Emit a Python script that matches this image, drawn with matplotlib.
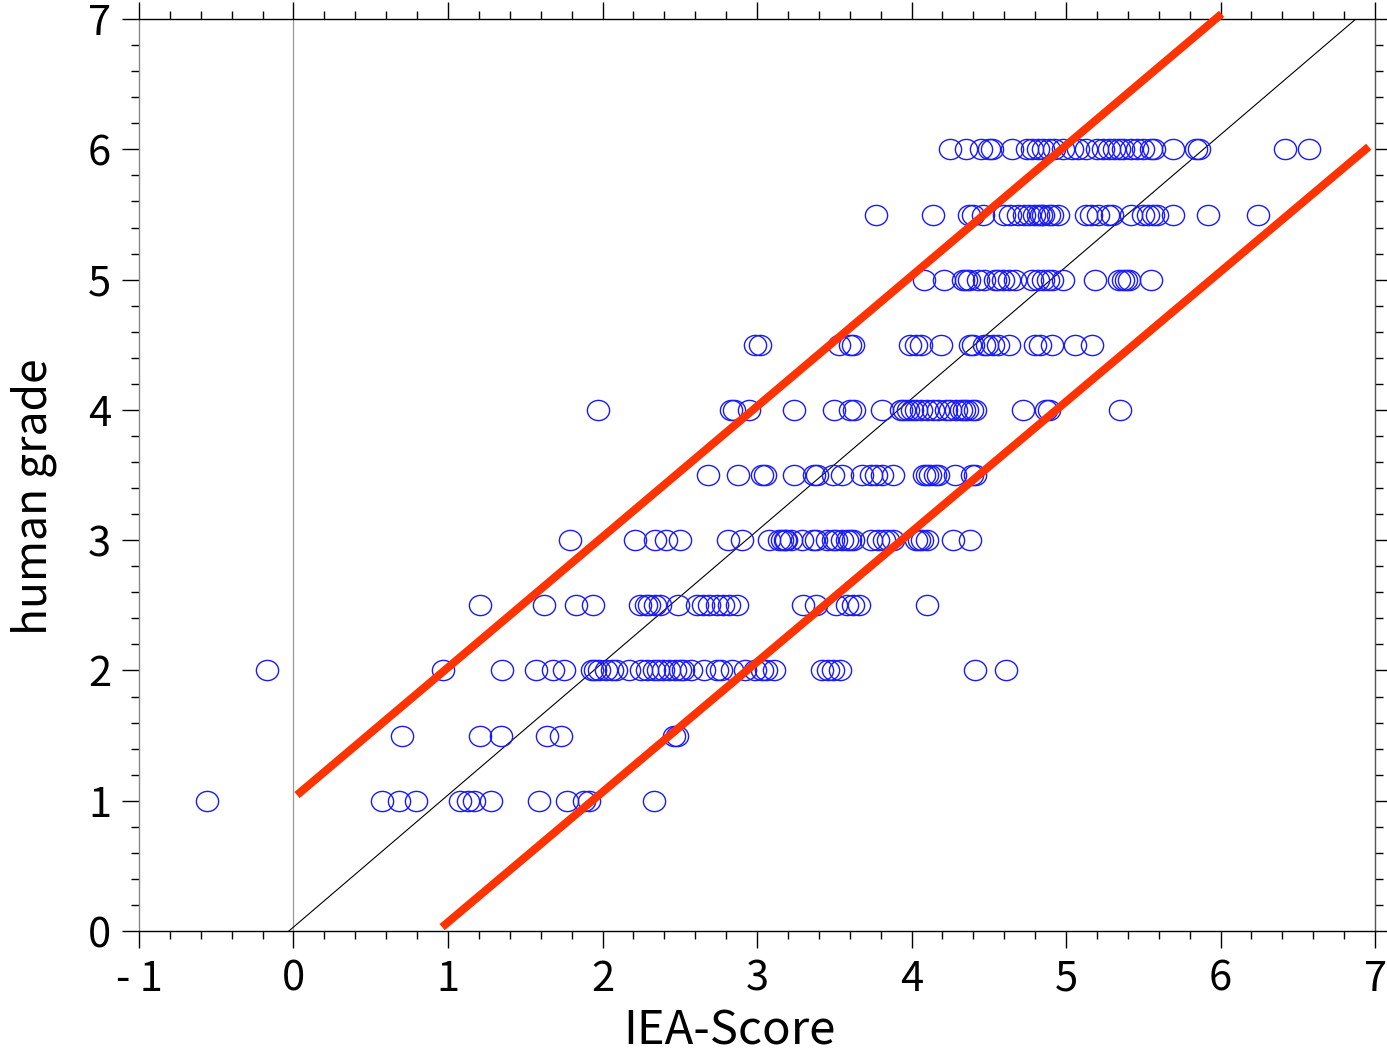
import numpy as np
import matplotlib
matplotlib.use('Agg')
import matplotlib.pyplot as plt
from matplotlib.ticker import MultipleLocator
from matplotlib.path import Path

plt.rcParams['font.family'] = ['Noto Sans CJK JP', 'DejaVu Sans']

# IEA-Score values for each human grade row
x_g1 = [-0.56, 0.57, 0.68, 0.79, 1.08, 1.13, 1.17, 1.28, 1.59, 1.77, 1.88, 1.91, 2.33]
x_g15 = [0.70, 1.21, 1.34, 1.64, 1.73, 2.46, 2.48]
x_g2 = [-0.17, 0.97, 1.35, 1.57, 1.68, 1.75, 1.93, 1.95, 1.98, 2.02, 2.06, 2.09,
        2.17, 2.25, 2.29, 2.33, 2.36, 2.39, 2.43, 2.47, 2.50, 2.52, 2.57, 2.66,
        2.74, 2.77, 2.84, 2.92, 2.99, 3.03, 3.06, 3.11, 3.42, 3.46, 3.49, 3.54,
        4.41, 4.61]
x_g25 = [1.21, 1.62, 1.83, 1.94, 2.24, 2.28, 2.30, 2.34, 2.37, 2.49, 2.61, 2.65,
         2.69, 2.74, 2.78, 2.82, 2.87, 3.30, 3.38, 3.51, 3.58, 3.62, 3.66, 4.10]
x_g3 = [1.79, 2.21, 2.34, 2.41, 2.50, 2.81, 2.90, 3.08, 3.14, 3.16, 3.18, 3.19,
        3.22, 3.29, 3.36, 3.38, 3.45, 3.49, 3.51, 3.55, 3.58, 3.60, 3.62, 3.74,
        3.78, 3.82, 3.85, 3.88, 4.03, 4.05, 4.07, 4.10, 4.27, 4.38]
x_g35 = [2.68, 2.88, 3.03, 3.05, 3.24, 3.37, 3.39, 3.49, 3.55, 3.68, 3.74, 3.77,
         3.81, 3.88, 4.08, 4.10, 4.12, 4.15, 4.17, 4.28, 4.39, 4.41]
x_g4 = [1.97, 2.83, 2.85, 2.95, 3.24, 3.50, 3.60, 3.63, 3.81, 3.93, 3.95, 3.98,
        4.00, 4.03, 4.06, 4.10, 4.14, 4.17, 4.22, 4.25, 4.29, 4.32, 4.34, 4.36,
        4.39, 4.41, 4.72, 4.87, 4.89, 5.35]
x_g45 = [2.99, 3.02, 3.53, 3.60, 3.62, 3.99, 4.03, 4.06, 4.19, 4.38, 4.40, 4.47,
         4.49, 4.53, 4.56, 4.63, 4.80, 4.83, 4.91, 5.06, 5.17]
x_g5 = [4.08, 4.21, 4.33, 4.35, 4.37, 4.43, 4.47, 4.54, 4.56, 4.59, 4.63, 4.67,
        4.78, 4.82, 4.85, 4.88, 4.91, 4.98, 5.19, 5.34, 5.37, 5.39, 5.41, 5.55]
x_g55 = [3.77, 4.14, 4.37, 4.40, 4.46, 4.60, 4.64, 4.69, 4.73, 4.76, 4.79, 4.82,
         4.84, 4.85, 4.89, 4.91, 4.95, 5.13, 5.16, 5.21, 5.27, 5.30, 5.42, 5.50,
         5.53, 5.56, 5.59, 5.69, 5.92, 6.24]
x_g6 = [4.25, 4.35, 4.45, 4.50, 4.52, 4.65, 4.75, 4.78, 4.82, 4.85, 4.89, 4.92,
        4.98, 5.04, 5.08, 5.13, 5.20, 5.24, 5.28, 5.31, 5.34, 5.37, 5.42, 5.46,
        5.50, 5.55, 5.57, 5.69, 5.84, 5.86, 6.42, 6.57]

grades = [1, 1.5, 2, 2.5, 3, 3.5, 4, 4.5, 5, 5.5, 6]
rows = [x_g1, x_g15, x_g2, x_g25, x_g3, x_g35, x_g4, x_g45, x_g5, x_g55, x_g6]

# fitted line and +-1 band (end points)
fit_x = [-0.03, 6.875]
fit_y = [0.0, 7.0]
up_x = [0.023, 6.007]
up_y = [1.044, 7.04]
lo_x = [0.962, 6.959]
lo_y = [0.03, 6.02]

# slightly wide open circle
circ = Path.unit_circle()
oval = Path(circ.vertices * [1.1, 1.0], circ.codes)

fig = plt.figure(figsize=(13.87, 10.61), dpi=100)
ax = fig.add_axes([0.1002, 0.1225, 0.8912, 0.8595])

ax.axvline(0, color='#999999', lw=0.9, zorder=1)

for g, xs in zip(grades, rows):
    ax.plot(xs, [g] * len(xs), ls='none', marker=oval, mfc='none', mec='#1a1aff',
            ms=16, mew=1.0, zorder=3)

ax.plot(fit_x, fit_y, color='black', lw=0.8, zorder=2)
ax.plot(up_x, up_y, color='#ff3300', lw=5.8, solid_capstyle='butt', clip_on=False, zorder=4)
ax.plot(lo_x, lo_y, color='#ff3300', lw=5.8, solid_capstyle='butt', clip_on=False, zorder=4)

ax.set_xlim(-1, 7)
ax.set_ylim(0, 7)
ax.set_xticks(range(-1, 8), ['- 1', '0', '1', '2', '3', '4', '5', '6', '7'])
ax.set_yticks(range(0, 8))
ax.xaxis.set_minor_locator(MultipleLocator(0.2))
ax.yaxis.set_minor_locator(MultipleLocator(0.2))
ax.tick_params(which='both', direction='out', top=True, right=True, width=1.0)
ax.tick_params(which='major', length=12, labelsize=30, pad=8)
ax.tick_params(which='minor', length=6)
for s in ax.spines.values():
    s.set_linewidth(1.0)
ax.spines['left'].set_color('#888888')
ax.spines['right'].set_color('#555555')

ax.set_xlabel('IEA-Score', fontsize=34)
ax.set_ylabel('human grade', fontsize=32)
ax.xaxis.set_label_coords(0.478, -0.083)
ax.yaxis.set_label_coords(-0.066, 0.476)

fig.savefig('out.png', dpi=100)
